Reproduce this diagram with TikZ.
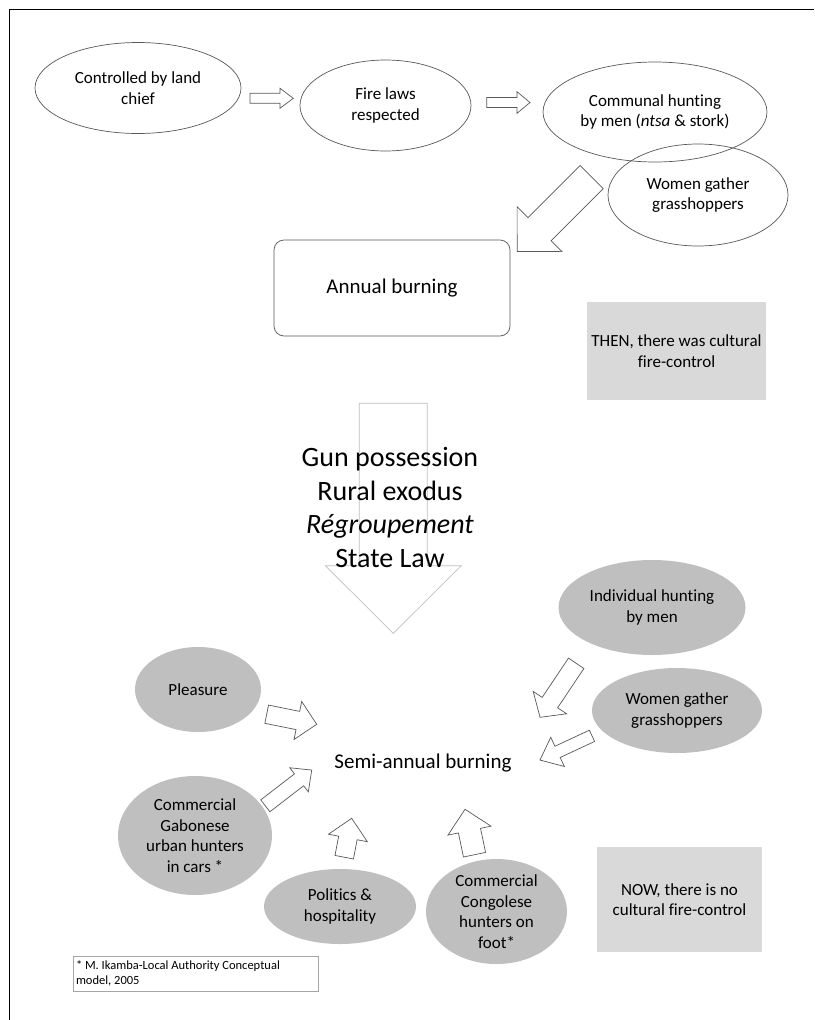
\documentclass[tikz,border=0pt]{standalone}
\usepackage{fontspec}
\setmainfont{Carlito}[Ligatures=NoCommon]
\usetikzlibrary{shapes.geometric}
\definecolor{lineg}{RGB}{89,89,89}
\definecolor{gfill}{RGB}{191,191,191}
\definecolor{bfill}{RGB}{217,217,217}
\definecolor{lightline}{RGB}{191,191,191}
\definecolor{fnline}{RGB}{166,166,166}
\tikzset{
  txt/.style={font=\fontsize{17}{20.5}\selectfont, align=center},
  wellipse/.style={ellipse, draw=lineg, line width=0.7pt, inner sep=-10pt, txt},
  gellipse/.style={ellipse, fill=gfill, draw=none, inner sep=-10pt, txt},
  graybox/.style={fill=bfill, draw=none, inner sep=0pt, txt},
  arrowline/.style={draw=lineg, line width=0.7pt, fill=white, line join=miter},
  pics/barrow/.style n args={4}{code={
    \path[arrowline] (0,-#2) -- ({#1-#4},-#2) -- ({#1-#4},-#3) -- (#1,0)
      -- ({#1-#4},#3) -- ({#1-#4},#2) -- (0,#2) -- cycle;}},
}
\begin{document}
\begin{tikzpicture}[x=1pt, y=-1pt]
\useasboundingbox (0,0) rectangle (814,1020);
\fill[white] (0,0) rectangle (814,1020);
% frame
\draw[line width=1.8pt] (9.5,1020) -- (9.5,9.5) -- (814,9.5);

% ---- THEN part ----
\node[wellipse, minimum width=206pt, minimum height=91pt] (e1) at (138,88) {Controlled by land\\chief};
\node[wellipse, minimum width=171pt, minimum height=91pt] (e2) at (385.5,105.5) {Fire laws\\respected};
\node[wellipse, minimum width=224pt, minimum height=100pt] (e3) at (655,112) {Communal hunting\\by men (\textit{ntsa} \& stork)};
\node[wellipse, minimum width=180pt, minimum height=102pt] (e4) at (698,195) {Women gather\\grasshoppers};

\pic (a1) at (250,98.3) {barrow={43.3}{5}{10}{13.3}};
\pic (a2) at (486.7,102.5) {barrow={43.3}{5}{10.8}{13}};
\pic[rotate=225] (aBig) at (591.7,177) {barrow={105.4}{16.3}{31.8}{31.7}};

\node[draw=lineg, line width=0.7pt, rounded corners=10pt, minimum width=236pt, minimum height=96pt,
      font=\fontsize{21}{25}\selectfont] (annual) at (392,288) {Annual burning};

\node[graybox, minimum width=179pt, minimum height=98pt] (then) at (676.5,351) {THEN, there was cultural\\fire-control};

% ---- transition ----
\pic[rotate=-90, arrowline/.append style={draw=lightline, fill=none}] (aDown) at (393.3,403.3) {barrow={230}{34}{68}{67.6}};
\node[font=\fontsize{28}{33.5}\selectfont, align=center, inner sep=0pt] (factors) at (390,507.5)
  {Gun possession\\Rural exodus\\\textit{Régroupement}\\State Law};

% ---- NOW part ----
\node[font=\fontsize{21}{25}\selectfont, inner sep=0pt] (semi) at (423,763) {Semi-annual burning};

\node[gellipse, minimum width=187pt, minimum height=95pt] (gInd) at (652,607.5) {Individual hunting\\by men};
\node[gellipse, minimum width=126pt, minimum height=85pt] (gPle) at (198,689.5) {Pleasure};
\node[gellipse, minimum width=170pt, minimum height=85pt] (gWom) at (677,710.5) {Women gather\\grasshoppers};
\node[gellipse, minimum width=154pt, minimum height=119pt] (gGab) at (195,835.5) {Commercial\\Gabonese\\urban hunters\\in cars *};
\node[gellipse, minimum width=152pt, minimum height=75pt] (gPol) at (340,906.5) {Politics \&\\hospitality};
\node[gellipse, minimum width=141pt, minimum height=105pt] (gCon) at (496.5,911.5) {Commercial\\Congolese\\hunters on\\foot*};

\pic[rotate=-11.4] (aPle) at (266.7,714.2) {barrow={51}{9.3}{19.4}{19.2}};
\pic[rotate=37.6] (aGab) at (265.3,805.8) {barrow={58.6}{7.5}{15.2}{16}};
\pic[rotate=79.1] (aPol) at (344.2,857.2) {barrow={39.6}{9.4}{19.8}{20}};
\pic[rotate=101.8] (aCon) at (474.5,854.7) {barrow={46.4}{11.3}{22}{21.8}};
\pic[rotate=236.2] (aInd) at (576.2,663.3) {barrow={65}{9.3}{20.1}{17.7}};
\pic[rotate=205] (aWom) at (592,735.8) {barrow={57.4}{6.2}{16.1}{19.4}};

\node[graybox, minimum width=165pt, minimum height=105pt] (now) at (679.5,899.5) {NOW, there is no\\cultural fire-control};

\node[draw=fnline, line width=0.6pt, inner sep=3pt, text width=239pt, minimum height=35pt, align=flush left,
      font=\fontsize{12.5}{15}\selectfont] (fn) at (195.5,973.5) {* M. Ikamba-Local Authority Conceptual\\model, 2005};
\end{tikzpicture}
\end{document}
